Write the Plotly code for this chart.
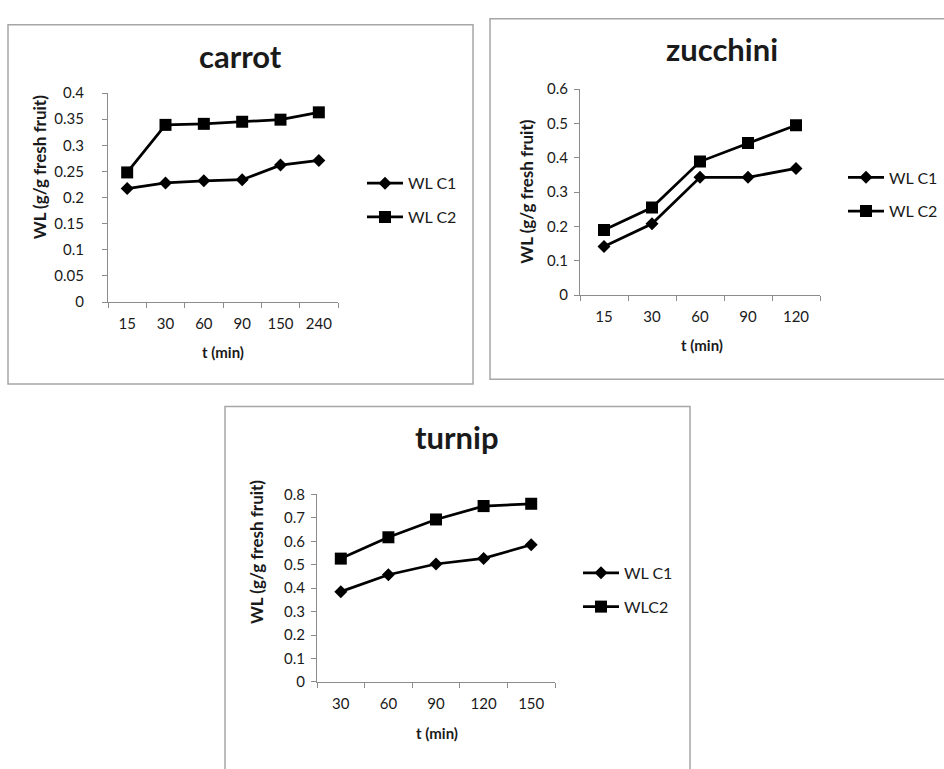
import plotly.graph_objects as go

# Water loss (g/g fresh fruit) over time for two conditions
carrot_t = ["15", "30", "60", "90", "150", "240"]
carrot_c1 = [0.217, 0.228, 0.232, 0.234, 0.262, 0.271]
carrot_c2 = [0.248, 0.339, 0.341, 0.345, 0.349, 0.363]

zucchini_t = ["15", "30", "60", "90", "120"]
zucchini_c1 = [0.142, 0.208, 0.343, 0.343, 0.369]
zucchini_c2 = [0.190, 0.255, 0.389, 0.443, 0.495]

turnip_t = ["30", "60", "90", "120", "150"]
turnip_c1 = [0.385, 0.457, 0.503, 0.527, 0.585]
turnip_c2 = [0.526, 0.617, 0.693, 0.750, 0.760]

carrot_yticks = [0, 0.05, 0.1, 0.15, 0.2, 0.25, 0.3, 0.35, 0.4]
carrot_ytext = ["0", "0.05", "0.1", "0.15", "0.2", "0.25", "0.3", "0.35", "0.4"]
zucchini_yticks = [0, 0.1, 0.2, 0.3, 0.4, 0.5, 0.6]
zucchini_ytext = ["0", "0.1", "0.2", "0.3", "0.4", "0.5", "0.6"]
turnip_yticks = [0, 0.1, 0.2, 0.3, 0.4, 0.5, 0.6, 0.7, 0.8]
turnip_ytext = ["0", "0.1", "0.2", "0.3", "0.4", "0.5", "0.6", "0.7", "0.8"]

W, H = 944, 769
FONT = "Lato"
INK = "#1a1a1a"
AXIS = "#8c8c8c"


def px(x):
    return x / W


def py(y):
    return 1 - y / H


fig = go.Figure()

panels = [
    # name, x, c1, c2, c2 label, axis suffix, legend id
    ("carrot", carrot_t, carrot_c1, carrot_c2, "WL C2", "", "legend"),
    ("zucchini", zucchini_t, zucchini_c1, zucchini_c2, "WL C2", "2", "legend2"),
    ("turnip", turnip_t, turnip_c1, turnip_c2, "WLC2", "3", "legend3"),
]

for name, t, c1, c2, c2name, ax, leg in panels:
    fig.add_trace(go.Scatter(
        x=t, y=c1, name="WL C1", mode="lines+markers",
        line=dict(color="black", width=2.75),
        marker=dict(symbol="diamond", size=10, color="black"),
        xaxis="x" + ax, yaxis="y" + ax, legend=leg, legendgroup=name + "1",
    ))
    fig.add_trace(go.Scatter(
        x=t, y=c2, name=c2name, mode="lines+markers",
        line=dict(color="black", width=2.75),
        marker=dict(symbol="square", size=12, color="black"),
        xaxis="x" + ax, yaxis="y" + ax, legend=leg, legendgroup=name + "2",
    ))


def xaxis_cfg(cats, x0, x1, anchor):
    return dict(
        domain=[px(x0), px(x1)], anchor=anchor, type="category",
        categoryorder="array", categoryarray=cats,
        range=[-0.5, len(cats) - 0.5], tickson="boundaries",
        ticks="outside", ticklen=5, tickcolor=AXIS, tickwidth=1,
        showline=True, linecolor=AXIS, linewidth=1, showgrid=False,
        zeroline=False, tickfont=dict(family=FONT, size=15, color=INK),
        ticklabelstandoff=8, fixedrange=True,
    )


def yaxis_cfg(vals, text, y0, y1, anchor, standoff):
    return dict(
        domain=[py(y0), py(y1)], anchor=anchor,
        range=[vals[0], vals[-1]], tickvals=vals, ticktext=text,
        ticks="outside", ticklen=5, tickcolor=AXIS, tickwidth=1,
        showline=True, linecolor=AXIS, linewidth=1, showgrid=False,
        zeroline=False, tickfont=dict(family=FONT, size=15, color=INK),
        ticklabelstandoff=standoff, fixedrange=True,
    )


legend_common = dict(
    xanchor="left", yanchor="top", bgcolor="rgba(0,0,0,0)",
    font=dict(family=FONT, size=16, color=INK),
    traceorder="grouped", tracegroupgap=10, itemclick=False,
    itemwidth=36,
)

fig.update_layout(
    width=W, height=H,
    margin=dict(l=0, r=0, t=0, b=0),
    paper_bgcolor="white", plot_bgcolor="white",
    showlegend=True,
    xaxis=xaxis_cfg(carrot_t, 108, 338, "y"),
    yaxis=yaxis_cfg(carrot_yticks, carrot_ytext, 299, 85, "x", 15),
    xaxis2=xaxis_cfg(zucchini_t, 580, 820, "y2"),
    yaxis2=yaxis_cfg(zucchini_yticks, zucchini_ytext, 292, 81, "x2", 3),
    xaxis3=xaxis_cfg(turnip_t, 317, 555, "y3"),
    yaxis3=yaxis_cfg(turnip_yticks, turnip_ytext, 688, 496, "x3", 3),
    legend=dict(x=px(362), y=py(160), **legend_common),
    legend2=dict(x=px(843), y=py(154), **legend_common),
    legend3=dict(x=px(578), y=py(559), **legend_common),
)

# Chart-area frames around each panel
frames = [(8, 15, 473, 383), (490, 9, 960, 378), (225, 406, 690, 790)]
for x0, y0, x1, y1 in frames:
    fig.add_shape(type="rect", xref="paper", yref="paper",
                  x0=px(x0), y0=py(y0), x1=px(x1), y1=py(y1),
                  line=dict(color="#a6a6a6", width=1.5), layer="below")


def label(text, x, y, size, angle=0):
    fig.add_annotation(text=text, x=px(x), y=py(y), xref="paper", yref="paper",
                       xanchor="center", yanchor="middle", showarrow=False,
                       textangle=angle, font=dict(family=FONT, size=size, color=INK))


for text, x, y in [("carrot", 240, 47), ("zucchini", 722, 40), ("turnip", 457, 437)]:
    label(f"<b>{text}</b>", x, y, 31)

for x, y in [(39, 161), (527, 186), (256, 555)]:
    label("<b>WL (g/g fresh fruit)</b>", x, y, 17, angle=-90)

for x, y in [(223, 350), (702, 343), (437, 740)]:
    label("<b>t (min)</b>", x, y, 15)

fig.write_html("out.html")
